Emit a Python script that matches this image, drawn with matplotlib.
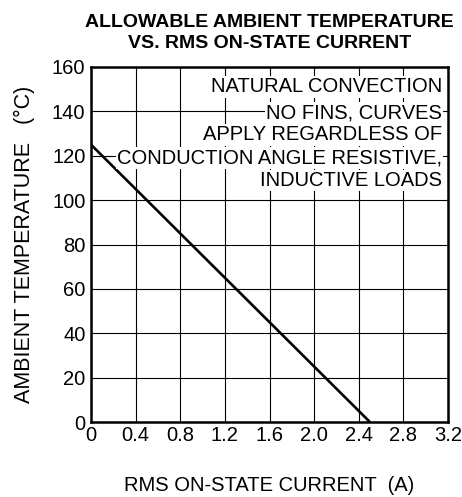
import numpy as np
import matplotlib
matplotlib.use("Agg")
import matplotlib.pyplot as plt

plt.rcParams['font.family'] = ['Liberation Sans', 'DejaVu Sans']

# derating line: ambient temperature vs RMS on-state current
current = [0.0, 2.5]
temperature = [125, 0]

xticks = [0, 0.4, 0.8, 1.2, 1.6, 2.0, 2.4, 2.8, 3.2]
xtick_labels = ["0", "0.4", "0.8", "1.2", "1.6", "2.0", "2.4", "2.8", "3.2"]
yticks = [0, 20, 40, 60, 80, 100, 120, 140, 160]

note_lines = [
    "NATURAL CONVECTION",
    "NO FINS, CURVES",
    "APPLY REGARDLESS OF",
    "CONDUCTION ANGLE RESISTIVE,",
    "INDUCTIVE LOADS",
]

fs = 14.5

fig = plt.figure(figsize=(4.62, 4.97), dpi=100)
ax = fig.add_axes([91 / 462, 1 - 422 / 497, 357 / 462, 355 / 497])

ax.plot(current, temperature, color="black", lw=1.9, zorder=3, solid_capstyle="butt")

ax.set_xlim(0, 3.2)
ax.set_ylim(0, 160)
ax.set_xticks(xticks)
ax.set_xticklabels(xtick_labels)
ax.set_yticks(yticks)
ax.tick_params(length=0, labelsize=fs)
ax.tick_params(axis="x", pad=3)
ax.tick_params(axis="y", pad=4)
ax.grid(True, color="black", lw=0.8, zorder=1)
ax.set_axisbelow(True)
for s in ax.spines.values():
    s.set_linewidth(1.8)

ax.set_xlabel("RMS ON-STATE CURRENT  (A)", fontsize=fs, labelpad=22)
ax.set_ylabel("AMBIENT TEMPERATURE   (°C)", fontsize=15.5, labelpad=12)
ax.set_title("ALLOWABLE AMBIENT TEMPERATURE\nVS. RMS ON-STATE CURRENT",
             fontsize=14, fontweight="bold", pad=13.5, linespacing=1.3)

ys = [0.944, 0.870, 0.809, 0.744, 0.680]
for line, y in zip(note_lines, ys):
    ax.text(0.983, y, line, transform=ax.transAxes, ha="right", va="center",
            fontsize=fs, zorder=4,
            bbox=dict(facecolor="white", edgecolor="none", pad=0.8))

fig.savefig("out.png", dpi=100)
